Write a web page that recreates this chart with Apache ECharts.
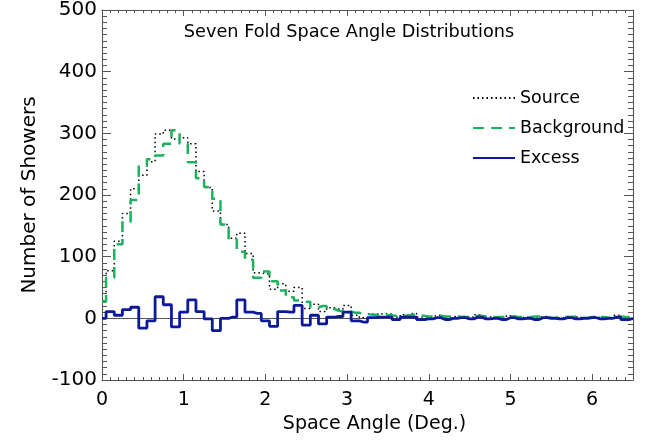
<!DOCTYPE html>
<html>
<head>
<meta charset="utf-8">
<script src="https://cdn.jsdelivr.net/npm/echarts@6/dist/echarts.min.js"></script>
<style>
html,body{margin:0;padding:0;background:#fff;}
#chart{width:653px;height:446px;}
</style>
</head>
<body>
<div id="chart"></div>
<script>
// 角度 (bin edges, 0.1 deg)
var angles = [0.0,0.1,0.2,0.3,0.4,0.5,0.6,0.7,0.8,0.9,1.0,1.1,1.2,1.3,1.4,1.5,1.6,1.7,1.8,1.9,
	2.0,2.1,2.2,2.3,2.4,2.5,2.6,2.7,2.8,2.9,3.0,3.1,3.2,3.3,3.4,3.5,3.6,3.7,3.8,3.9,
	4.0,4.1,4.2,4.3,4.4,4.5,4.6,4.7,4.8,4.9,5.0,5.1,5.2,5.3,5.4,5.5,5.6,5.7,5.8,5.9,
	6.0,6.1,6.2,6.3,6.4,6.5];
var sourceCounts = [27,77,125,170,210,232,254,299,305,291,293,283,238,212,174,152,130,138,105,74,
	72,47,56,44,50,16,23,11,17,15,21,5,1,7,7,7,2,6,8,2,
	2,5,1,3,3,2,6,2,2,0,4,1,2,1,3,1,1,3,2,1,
	3,1,1,5,0,1];
var backgroundCounts = [27,66,120,156,192,248,258,264,283,305,283,253,227,213,194,152,128,108,95,66,
	76,60,45,34,29,27,18,20,15,12,11,9,7,6,5,5,4,4,6,4,
	3,4,3,3,2,3,4,3,2,2,3,2,2,3,2,1,2,2,3,1,
	2,2,1,3,2,1];
var excessCounts = [0,11,5,14,18,-16,-4,35,22,-14,10,30,11,-1,-20,0,2,30,10,8,
	-4,-13,11,10,21,-11,5,-9,2,3,10,-4,-6,1,2,2,-2,2,2,-2,
	-1,1,-2,0,1,-1,2,-1,0,-2,1,-1,0,-2,1,0,-1,1,-1,0,
	1,-1,0,2,-2,0];
var xTicks = [0,1,2,3,4,5,6];
var yTicks = [-100,0,100,200,300,400,500];

function pairs(ys){
	var out = [];
	for (var i = 0; i < angles.length; i++) {
		out.push([angles[i], ys[i]]);
	}
	return out;
}

var fontName = 'DejaVu Sans, Liberation Sans, sans-serif';
var frameColor = '#555';

// 四边框的公共设置
function frameAxis(pos, showLabel) {
	var vertical = (pos === 'left' || pos === 'right');
	return {
		type: 'value',
		position: pos,
		min: vertical ? -100 : 0,
		max: vertical ? 500 : 6.5,
		interval: vertical ? 100 : 1,
		axisLine: { show: true, onZero: false, lineStyle: { color: frameColor, width: 1 } },
		axisTick: { show: true, inside: true, length: vertical ? 9 : 6, lineStyle: { color: frameColor } },
		minorTick: { show: true, splitNumber: 10, length: vertical ? 5 : 3, lineStyle: { color: frameColor } },
		axisLabel: { show: showLabel },
		splitLine: { show: false }
	};
}

var xBottom = frameAxis('bottom', true);
xBottom.name = 'Space Angle (Deg.)';
xBottom.nameLocation = 'middle';
xBottom.nameGap = 35;
xBottom.nameTextStyle = { fontFamily: fontName, fontSize: 19, color: '#000', padding: [0,0,0,14] };
xBottom.axisLabel = {
	show: true, fontFamily: fontName, fontSize: 19, color: '#000', margin: 11,
	formatter: function (v) { return xTicks.indexOf(v) >= 0 ? String(v) : ''; }
};

var yLeft = frameAxis('left', true);
yLeft.name = 'Number of Showers';
yLeft.nameLocation = 'middle';
yLeft.nameGap = 62;
yLeft.nameTextStyle = { fontFamily: fontName, fontSize: 20, color: '#000' };
yLeft.axisLabel = {
	show: true, fontFamily: fontName, fontSize: 20, color: '#000', margin: 5,
	formatter: function (v) { return yTicks.indexOf(v) >= 0 ? String(v) : ''; }
};

var myChart = echarts.init(document.getElementById('chart'), null, {renderer:'canvas'});

var option = {
	animation: false,
	backgroundColor: '#fff',
	textStyle: { fontFamily: fontName },
	title: {
		text: 'Seven Fold Space Angle Distributions',
		left: 344,
		top: 18,
		textAlign: 'center',
		textStyle: { fontFamily: fontName, fontSize: 17.7, fontWeight: 'normal', color: '#000' }
	},
	legend: {
		orient: 'vertical',
		left: 467,
		top: 84,
		itemWidth: 42,
		itemHeight: 14,
		itemGap: 12,
		data: ['Source', 'Background', 'Excess'],
		itemStyle: { color: 'rgba(0,0,0,0)', borderWidth: 0 },
		textStyle: { fontFamily: fontName, fontSize: 17.5, color: '#000', padding: [0,0,0,0] }
	},
	grid: {
		left: 102,
		right: 20,
		top: 7,
		bottom: 66
	},
	xAxis: [xBottom, frameAxis('top', false)],
	yAxis: [yLeft, frameAxis('right', false)],
	series: [{
		name: 'Source',
		type: 'line',
		step: 'middle',
		symbol: 'none',
		data: pairs(sourceCounts),
		lineStyle: { color: '#000', width: 1.5, type: [1.5, 3] },
		itemStyle: { color: '#000' },
		z: 2
	}, {
		name: 'Background',
		type: 'line',
		step: 'middle',
		symbol: 'none',
		data: pairs(backgroundCounts),
		lineStyle: { color: '#1db25e', width: 2.5, type: [11, 7] },
		itemStyle: { color: '#1db25e' },
		z: 3
	}, {
		name: 'Excess',
		type: 'line',
		step: 'middle',
		symbol: 'none',
		data: pairs(excessCounts),
		lineStyle: { color: '#0c1a9a', width: 2.8 },
		itemStyle: { color: '#0c1a9a' },
		z: 4,
		markLine: {
			silent: true,
			symbol: 'none',
			label: { show: false },
			lineStyle: { color: '#555', width: 1, type: 'solid' },
			data: [{ yAxis: 0 }],
			z: 1
		}
	}]
};

myChart.setOption(option);
</script>
</body>
</html>
